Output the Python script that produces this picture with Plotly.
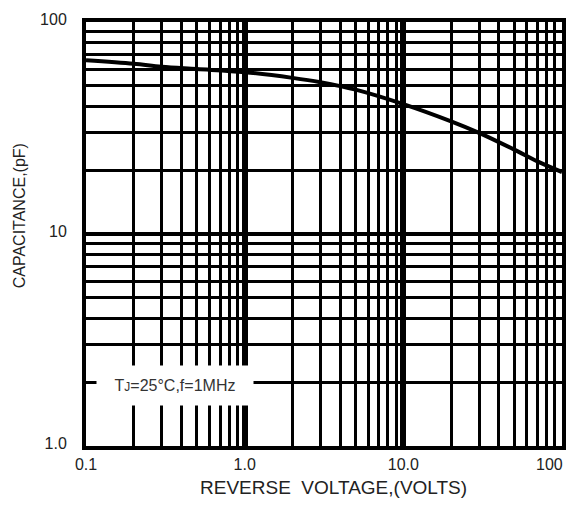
import plotly.graph_objects as go

# Data
voltage = [0.1, 0.2, 0.3, 0.5, 1, 2, 3, 5, 10, 20, 30, 50, 70, 100]
capacitance = [66, 63.5, 61.5, 60, 58, 54.5, 52, 48, 41, 34, 30, 25, 22, 19.6]

x_ticks = [0.1, 1, 10]
x_ticktext = ["0.1", "1.0", "10.0"]
x_last_tick = 100
x_last_ticktext = "100"
y_ticks = [1, 10, 100]
y_ticktext = ["1.0", "10", "100"]
digits = [2, 3, 4, 5, 6, 7, 8, 9]
x_decades = [0.1, 1, 10]
y_decades = [1, 10]

x_minor = [d * dec for dec in x_decades for d in digits]
y_minor = [d * dec for dec in y_decades for d in digits]

fig = go.Figure()
fig.add_trace(go.Scatter(
    x=voltage, y=capacitance, mode="lines",
    line=dict(color="black", width=4, shape="spline"),
    showlegend=False, hoverinfo="skip",
))

font_color = "#222222"
fig.update_layout(
    width=561, height=493,
    margin=dict(l=78, r=3, t=12, b=55),
    paper_bgcolor="white", plot_bgcolor="white",
    font=dict(family="Arial, Liberation Sans, sans-serif", size=16, color=font_color),
    xaxis=dict(
        type="log", range=[-1, 2],
        tickvals=x_ticks, ticktext=x_ticktext,
        showgrid=True, gridcolor="black", gridwidth=6,
        minor=dict(tickvals=x_minor, showgrid=True, gridcolor="black", gridwidth=3, ticks=""),
        showline=True, linecolor="black", linewidth=4, mirror=True,
        ticks="", tickfont=dict(size=16, color=font_color),
        ticklabelstandoff=1,
        zeroline=False,
    ),
    yaxis=dict(
        type="log", range=[0, 2],
        tickvals=y_ticks, ticktext=y_ticktext,
        showgrid=True, gridcolor="black", gridwidth=4,
        minor=dict(tickvals=y_minor, showgrid=True, gridcolor="black", gridwidth=3, ticks=""),
        showline=True, linecolor="black", linewidth=4, mirror=True,
        ticks="", tickfont=dict(size=16, color=font_color),
        ticklabelstandoff=12, ticklabelshift=-3, ticklabeloverflow="allow",
        zeroline=False,
    ),
)

# Last x tick label, kept inside the figure edge
fig.add_annotation(
    xref="x", yref="paper", x=2, y=0,
    xanchor="right", yanchor="middle", xshift=3, yshift=-18,
    text=x_last_ticktext, showarrow=False,
    font=dict(size=16, color=font_color),
)

# Axis titles
fig.add_annotation(
    xref="paper", yref="paper", x=0.519, y=-0.0986,
    xanchor="center", yanchor="middle",
    text="REVERSE&nbsp;&nbsp;VOLTAGE,(VOLTS)",
    showarrow=False, font=dict(size=19, color=font_color),
)
fig.add_annotation(
    xref="paper", yref="paper", x=-0.1406, y=0.542,
    xanchor="center", yanchor="middle", textangle=-90,
    text="CAPACITANCE,(pF)",
    showarrow=False, font=dict(size=16, color=font_color),
)

# Condition note
fig.add_annotation(
    xref="paper", yref="paper", x=0.1875, y=0.143,
    xanchor="center", yanchor="middle",
    text="T<span style='font-size:12px'>J</span>=25°C,f=1MHz",
    showarrow=False, bgcolor="white", width=154, height=37,
    font=dict(size=16, color="#333333"),
)

fig.write_html("out.html", config={"displayModeBar": False})
